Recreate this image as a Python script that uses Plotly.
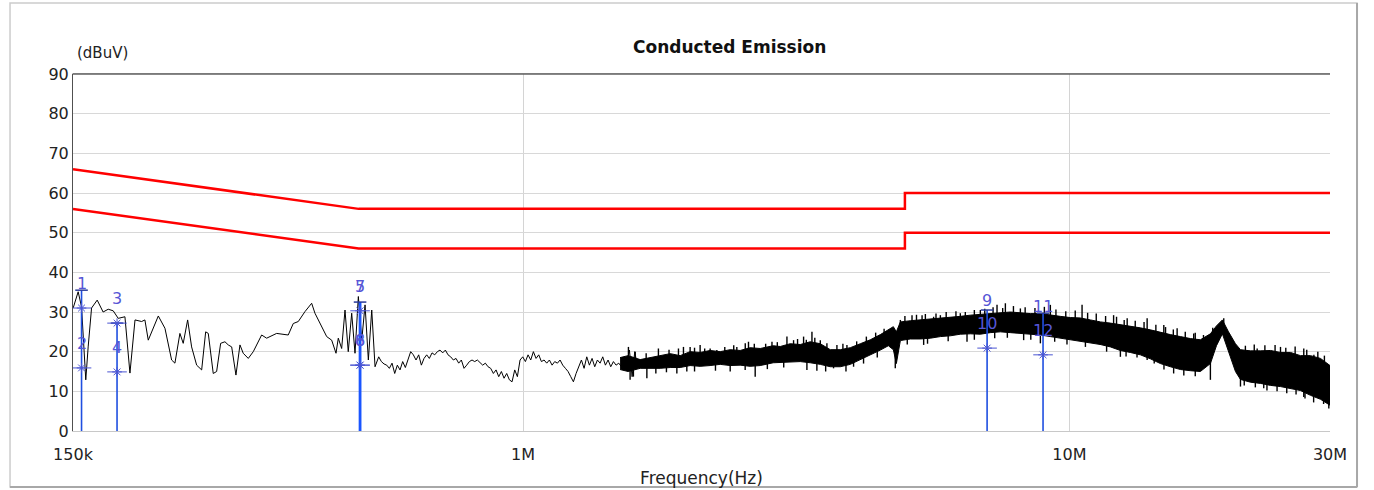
import numpy as np
import plotly.graph_objects as go

# ---------------- data ----------------
# measured trace, sparse low-frequency part (MHz / dBuV)
trace_freq = [0.1501, 0.1533, 0.1555, 0.1570, 0.1583, 0.1599, 0.1622, 0.1661, 0.1703, 0.1740,
              0.1777, 0.1815, 0.1867, 0.1907, 0.1948, 0.2003, 0.2031, 0.2060, 0.2149, 0.2210,
              0.2273, 0.2305, 0.2354, 0.2387, 0.2432, 0.2473, 0.2526, 0.2580, 0.2624, 0.2653,
              0.2709, 0.2748, 0.2795, 0.2846, 0.2886, 0.2928, 0.2981, 0.3032, 0.3074, 0.3140,
              0.3207, 0.3322, 0.3393, 0.3539, 0.3716, 0.3796, 0.3877, 0.3988, 0.4102, 0.4159,
              0.4248, 0.4370, 0.4463, 0.4545, 0.4589, 0.4655, 0.4721, 0.4786, 0.4856, 0.4924,
              0.4994, 0.5066, 0.5137, 0.5209, 0.5284, 0.5358,
              0.5441, 0.5503, 0.5565, 0.5628, 0.5691, 0.5756, 0.5821, 0.5886, 0.5953, 0.6020,
              0.6088, 0.6157, 0.6227, 0.6297, 0.6368, 0.6440, 0.6513, 0.6587, 0.6661, 0.6736,
              0.6813, 0.6890, 0.6968, 0.7046, 0.7126, 0.7207, 0.7288, 0.7370, 0.7454, 0.7538,
              0.7623, 0.7709, 0.7797, 0.7885, 0.7974, 0.8064, 0.8155, 0.8247, 0.8341, 0.8435,
              0.8530, 0.8627, 0.8724, 0.8823, 0.8923, 0.9024, 0.9126, 0.9229, 0.9333, 0.9439,
              0.9546, 0.9654, 0.9763, 0.9873, 0.9985, 1.0098, 1.0212, 1.0327, 1.0444, 1.0562,
              1.0682, 1.0803, 1.0925, 1.1048, 1.1173, 1.1300, 1.1427, 1.1557, 1.1687, 1.1819,
              1.1953, 1.2088, 1.2225, 1.2363, 1.2503, 1.2644, 1.2787, 1.2932, 1.3078, 1.3226,
              1.3375, 1.3526, 1.3679, 1.3834, 1.3990, 1.4149, 1.4309, 1.4470, 1.4634, 1.4799,
              1.4967, 1.5136, 1.5307, 1.5480, 1.5655, 1.5832, 1.6011, 1.6192, 1.6375]
trace_level = [31.0, 35.1, 31.3, 21.7, 12.9, 21.2, 31.0, 33.0, 30.0, 30.7,
               30.3, 28.4, 28.8, 14.6, 28.0, 27.6, 28.0, 22.9, 29.0, 25.9,
               17.9, 17.1, 24.6, 22.1, 28.0, 21.2, 16.6, 15.4, 25.0, 24.6,
               14.5, 15.0, 22.1, 22.5, 21.7, 21.2, 14.1, 21.7, 19.6, 18.3,
               20.0, 24.2, 23.4, 24.6, 24.2, 27.1, 27.6, 30.1, 32.2, 29.7,
               27.1, 23.8, 22.9, 19.6, 23.4, 20.8, 30.5, 20.0, 29.7, 19.6,
               33.9, 22.9, 31.8, 17.9, 30.5, 16.2,
               18.7, 17.5, 16.9, 16.6, 15.8, 17.1, 14.5, 16.6, 15.4, 17.5,
               16.0, 17.9, 20.0, 19.2, 17.9, 19.2, 16.6, 18.3, 19.2, 18.3,
               19.7, 19.2, 20.0, 20.4, 19.7, 20.4, 19.2, 18.7, 17.9, 18.3,
               17.1, 17.9, 15.8, 16.6, 17.5, 17.9, 17.5, 17.9, 17.1, 16.6,
               17.1, 16.2, 15.8, 14.5, 15.4, 13.7, 15.0, 13.3, 14.5, 12.9,
               12.4, 15.4, 13.7, 17.9, 18.7, 17.5, 19.2, 17.9, 20.0, 18.3,
               19.2, 17.5, 17.9, 17.1, 17.9, 16.6, 17.5, 17.1, 17.9, 16.6,
               15.8, 15.0, 13.7, 12.4, 14.5, 16.2, 17.9, 15.8, 18.7, 16.6,
               18.3, 16.2, 17.9, 17.1, 18.7, 16.6, 17.9, 16.2, 17.5, 16.6,
               17.1, 16.2, 17.5, 16.6, 20.4, 13.7, 20.0, 16.2, 17.9]

# measured trace, dense high-frequency part: envelope (MHz / dBuV)
band_freq = [1.505, 1.557, 1.638, 1.708, 1.782, 1.859, 1.939, 2.022, 2.109, 2.200,
             2.295, 2.394, 2.497, 2.604, 2.717, 2.870, 2.956, 3.083, 3.216, 3.355,
             3.500, 3.650, 3.808, 3.972, 4.143, 4.321, 4.508, 4.663, 4.762, 4.823,
             4.905, 5.116, 5.337, 5.567, 5.806, 6.055, 6.315, 6.587, 6.871, 7.167,
             7.475, 7.797, 8.134, 8.484, 8.850, 9.230, 9.628, 10.04, 10.47, 10.93,
             11.40, 11.89, 12.40, 12.93, 13.49, 14.07, 14.68, 15.31, 15.97, 16.66,
             17.37, 18.12, 18.59, 19.06, 19.56, 20.14, 20.57, 21.46, 22.38, 23.35,
             24.35, 25.40, 26.49, 27.63, 28.82, 30.0]
band_upper = [18.5, 19.0, 18.0, 18.5, 19.0, 19.5, 19.0, 20.0, 19.8, 20.3,
              20.0, 20.5, 20.3, 21.0, 20.8, 21.5, 21.3, 22.0, 21.8, 22.5,
              22.0, 20.5, 20.5, 21.0, 22.0, 23.0, 24.3, 25.5, 26.3, 25.0,
              27.5, 27.8, 28.0, 28.3, 28.5, 28.7, 28.9, 29.2, 29.4, 29.7,
              29.9, 30.0, 29.8, 29.6, 29.6, 29.2, 28.9, 28.6, 28.5, 28.0,
              27.5, 27.2, 26.8, 26.5, 26.0, 25.5, 24.8, 24.3, 23.8, 23.3,
              23.0, 24.5, 26.5, 28.0, 25.0, 22.0, 20.5, 20.2, 20.2, 20.3,
              19.8, 19.8, 19.0, 19.0, 18.3, 16.5]
band_lower = [15.5, 15.0, 15.8, 15.8, 15.8, 16.0, 16.0, 16.5, 16.3, 16.5,
              16.8, 16.5, 16.6, 16.3, 16.5, 17.2, 17.3, 17.5, 17.5, 17.2,
              16.8, 16.2, 16.2, 16.8, 18.0, 19.0, 20.4, 21.5, 20.5, 17.0,
              22.8, 23.2, 23.2, 23.4, 23.8, 24.0, 24.4, 24.5, 24.4, 24.8,
              25.0, 24.8, 24.6, 24.4, 24.2, 23.8, 23.4, 23.0, 22.7, 22.2,
              21.8, 21.2, 20.3, 19.8, 19.2, 18.2, 17.0, 16.2, 15.5, 15.2,
              15.0, 17.0, 21.5, 24.5, 20.0, 15.0, 13.0, 12.3, 12.0, 11.5,
              11.2, 10.7, 10.2, 9.0, 8.0, 6.5]

# individual sweep spikes reaching above / below the envelope (MHz / dBuV)
spike_up_freq = [1.559, 1.604, 1.68, 1.769, 1.85, 1.925, 1.966, 2.022, 2.06, 2.109,
                 2.15, 2.200, 2.263, 2.34, 2.43, 2.462, 2.551, 2.586, 2.65, 2.78,
                 2.855, 2.92, 3.041, 3.127, 3.18, 3.262, 3.30, 3.379, 3.42, 3.500,
                 3.599, 3.754, 3.85, 3.916, 4.08, 4.25, 4.42, 4.58, 4.905, 5.0,
                 5.152, 5.25, 5.375, 5.45, 5.643, 5.7, 5.806, 5.95, 6.2, 6.315,
                 6.45, 6.7, 6.871, 7.0, 7.25, 7.372, 7.55, 7.636, 7.9, 8.134,
                 8.3, 8.65, 9.0, 9.230, 9.45, 9.85, 10.25, 10.55, 10.8, 11.2,
                 11.65, 12.05, 12.2, 12.6, 12.76, 13.2, 13.7, 13.88, 14.4, 14.89,
                 15.0, 15.5, 15.75, 16.3, 16.89, 17.0, 17.6, 17.75, 18.3, 19.17,
                 21.0, 21.8, 22.07, 22.8, 23.8, 24.35, 24.9, 25.9, 26.86, 27.2,
                 28.03, 28.5, 29.3, 29.65]
spike_up_level = [21.2, 20.0, 19.6, 20.8, 20.5, 20.8, 21.2, 21.2, 21.0, 21.7,
                  20.8, 20.8, 20.4, 21.2, 21.6, 21.2, 22.1, 22.5, 22.0, 22.0,
                  22.5, 22.4, 23.8, 22.9, 23.2, 23.8, 23.0, 25.0, 23.5, 22.9,
                  22.1, 21.7, 22.0, 21.7, 22.6, 23.8, 24.8, 25.8, 28.0, 29.0,
                  29.2, 29.3, 29.2, 29.5, 28.8, 29.6, 29.2, 30.0, 30.2, 29.7,
                  30.0, 30.5, 30.5, 30.8, 31.2, 31.8, 31.0, 32.2, 31.5, 30.9,
                  31.2, 31.0, 31.3, 31.8, 30.6, 30.2, 30.4, 31.8, 29.8, 29.6,
                  29.0, 29.2, 28.8, 28.0, 28.4, 27.8, 27.5, 28.4, 26.8, 26.7,
                  26.2, 25.6, 25.9, 25.0, 24.6, 24.8, 24.2, 23.4, 26.0, 28.4,
                  21.5, 21.8, 20.8, 21.6, 21.7, 21.2, 21.0, 21.3, 20.8, 20.5,
                  19.2, 20.0, 19.0, 15.8]
spike_dn_freq = [1.570, 1.592, 1.685, 1.75, 1.83, 1.912, 1.994, 2.06, 2.25, 2.394,
                 2.55, 2.660, 2.80, 3.0, 3.308, 3.45, 3.58, 3.701, 3.9, 4.027,
                 4.2, 4.45, 4.801, 5.05, 5.411, 5.5, 6.0, 6.496, 6.7, 7.3,
                 7.7, 8.248, 8.5, 8.850, 9.4, 9.9, 10.7, 11.40, 11.7, 12.40,
                 12.7, 13.3, 13.88, 14.3, 14.9, 15.52, 16.2, 17.0, 18.12, 20.57,
                 20.9, 21.9, 22.69, 23.0, 24.0, 25.0, 26.0, 26.86, 27.0, 28.0,
                 29.2, 29.85]
spike_dn_level = [12.9, 13.7, 13.3, 14.5, 14.8, 14.5, 15.0, 15.0, 15.2, 15.0,
                  15.4, 13.7, 15.6, 16.0, 15.4, 15.2, 15.0, 15.8, 15.0, 16.2,
                  17.0, 18.5, 15.8, 21.8, 21.7, 22.0, 22.6, 22.5, 23.0, 23.4,
                  23.5, 22.9, 23.0, 22.1, 22.5, 21.8, 21.2, 21.7, 20.0, 18.7,
                  18.8, 18.5, 17.9, 17.0, 15.5, 14.5, 14.0, 13.8, 12.9, 11.2,
                  11.5, 11.0, 10.8, 10.2, 10.0, 9.5, 9.2, 8.6, 8.2, 7.2,
                  6.8, 5.7]

# limit lines (QP and AV)
limit_freq = [0.15, 0.5, 5.0, 5.0, 30.0]
qp_limit = [66, 56, 56, 60, 60]
av_limit = [56, 46, 46, 50, 50]

# markers: reading level, and the peak each marker line reaches
marker_no = ["1", "2", "3", "4", "5", "6", "7", "8", "9", "10", "11", "12"]
marker_freq = [0.1555, 0.1555, 0.1806, 0.1806, 0.5030, 0.5030, 0.5030, 0.5030, 7.07, 7.07, 8.95, 8.95]
marker_level = [31.0, 15.9, 27.2, 14.9, 30.3, 16.6, 30.3, 16.6, 26.8, 20.9, 25.3, 19.2]
marker_peak = [35.5, 15.9, 27.2, 14.9, 32.5, 16.6, 30.3, 16.6, 30.5, 20.9, 29.7, 19.2]
star_shown = [True, True, True, True, False, True, True, True, False, True, False, True]

x_tick_vals = [0.15, 1, 10, 30]
x_tick_text = ["150k", "1M", "10M", "30M"]

# ---------------- figure ----------------
FONT = "DejaVu Sans"
MCOL = "#4b55d2"
fig = go.Figure()

fig.add_trace(go.Scatter(x=limit_freq, y=qp_limit, mode="lines",
                         line=dict(color="#ff0000", width=2.5), hoverinfo="skip"))
fig.add_trace(go.Scatter(x=limit_freq, y=av_limit, mode="lines",
                         line=dict(color="#ff0000", width=2.5), hoverinfo="skip"))

# dense band
fig.add_trace(go.Scatter(x=band_freq, y=band_upper, mode="lines",
                         line=dict(color="black", width=1)))
fig.add_trace(go.Scatter(x=band_freq, y=band_lower, mode="lines", fill="tonexty",
                         fillcolor="black", line=dict(color="black", width=1)))

# spikes: vertical segments from the band middle to the spike level
lb = np.log10(band_freq)
mid = (np.array(band_upper) + np.array(band_lower)) / 2
spx, spy = [], []
for f, lv in list(zip(spike_up_freq, spike_up_level)) + list(zip(spike_dn_freq, spike_dn_level)):
    base = float(np.interp(np.log10(f), lb, mid))
    spx += [f, f, None]
    spy += [base, lv, None]
fig.add_trace(go.Scatter(x=spx, y=spy, mode="lines", line=dict(color="black", width=1.4)))

# sparse trace
fig.add_trace(go.Scatter(x=trace_freq, y=trace_level, mode="lines",
                         line=dict(color="black", width=1)))

# marker vertical lines (one per frequency, up to the highest peak)
groups = {}
for f, pk in zip(marker_freq, marker_peak):
    groups[f] = max(groups.get(f, 0), pk)
lx, ly = [], []
for f, top in groups.items():
    lx += [f, f, None]
    ly += [0, top, None]
fig.add_trace(go.Scatter(x=lx, y=ly, mode="lines", line=dict(color="#1f4fe0", width=1.6)))
dup = [f for f in groups if marker_freq.count(f) > 2]
dx, dy = [], []
for f in dup:
    dx += [f, f, None]
    dy += [0, groups[f], None]
fig.add_trace(go.Scatter(x=dx, y=dy, mode="lines", line=dict(color="#1a55ff", width=2.8)))
# small cross at line tops
fig.add_trace(go.Scatter(x=list(groups.keys()), y=list(groups.values()), mode="markers",
                         marker=dict(symbol="line-ew-open", size=9, color="#2a3a9a",
                                     line=dict(color="#2a3a9a", width=1.5))))

# stars
sx = [f for f, s in zip(marker_freq, star_shown) if s]
sy = [lv for lv, s in zip(marker_level, star_shown) if s]
fig.add_trace(go.Scatter(x=sx, y=sy, mode="markers",
                         marker=dict(symbol="asterisk-open", size=8, color=MCOL,
                                     line=dict(color=MCOL, width=1))))
fig.add_trace(go.Scatter(x=sx, y=sy, mode="markers",
                         marker=dict(symbol="line-ew-open", size=14, color=MCOL,
                                     line=dict(color=MCOL, width=1))))

# marker labels (about 24 px above the reading)
for n, f, lv in zip(marker_no, marker_freq, marker_level):
    fig.add_annotation(x=np.log10(f), y=lv + 6.1, text=n, showarrow=False,
                       yanchor="middle", xanchor="center",
                       font=dict(family=FONT, size=16, color="#5656d6"))

fig.update_xaxes(type="log", range=[np.log10(0.15), np.log10(30)],
                 tickvals=x_tick_vals, ticktext=x_tick_text, ticks="",
                 ticklabelstandoff=9, automargin=False,
                 showgrid=True, gridcolor="#d4d4d4", gridwidth=1,
                 showline=True, linecolor="#c8c8c8", mirror=True, zeroline=False,
                 tickfont=dict(family=FONT, size=16, color="#222"),
                 title=dict(text="Frequency(Hz)", font=dict(family=FONT, size=17, color="#222"),
                            standoff=8))
fig.update_yaxes(range=[0, 90], dtick=10, ticks="", automargin=False,
                 showgrid=True, gridcolor="#d8d8d8", gridwidth=1,
                 showline=True, linecolor="#505050", mirror=False, zeroline=False,
                 tickfont=dict(family=FONT, size=16, color="#222"))

fig.add_annotation(xref="paper", yref="paper", x=0.522, y=1.0756, text="<b>Conducted Emission</b>",
                   showarrow=False, xanchor="center", yanchor="middle",
                   font=dict(family=FONT, size=17, color="#111"))
fig.add_annotation(xref="paper", yref="paper", x=0.0015, y=1.0588, text="(dBuV)",
                   showarrow=False, xanchor="left", yanchor="middle",
                   font=dict(family=FONT, size=15, color="#222"))

fig.add_shape(type="line", xref="paper", yref="paper", x0=0, x1=1, y0=1, y1=1,
              line=dict(color="#606060", width=1.5))
# outer panel frame
fig.add_shape(type="rect", xref="paper", yref="paper", x0=-0.0501, x1=1.0215, y0=-0.1569, y1=1.1989,
              line=dict(color="#cccccc", width=1.5))
fig.add_shape(type="line", xref="paper", yref="paper", x0=1.0215, x1=1.0215, y0=-0.1569, y1=1.1989,
              line=dict(color="#a8a8a8", width=2))
fig.add_shape(type="line", xref="paper", yref="paper", x0=-0.0501, x1=1.0215, y0=-0.1569, y1=-0.1569,
              line=dict(color="#a8a8a8", width=2))

fig.update_layout(width=1374, height=490, margin=dict(l=73, r=44, t=74, b=59, autoexpand=False),
                  paper_bgcolor="white", plot_bgcolor="white", showlegend=False)

fig.write_html("out.html", config={"displayModeBar": False},
               post_script="document.body.style.margin='0';document.body.style.overflow='hidden';")
